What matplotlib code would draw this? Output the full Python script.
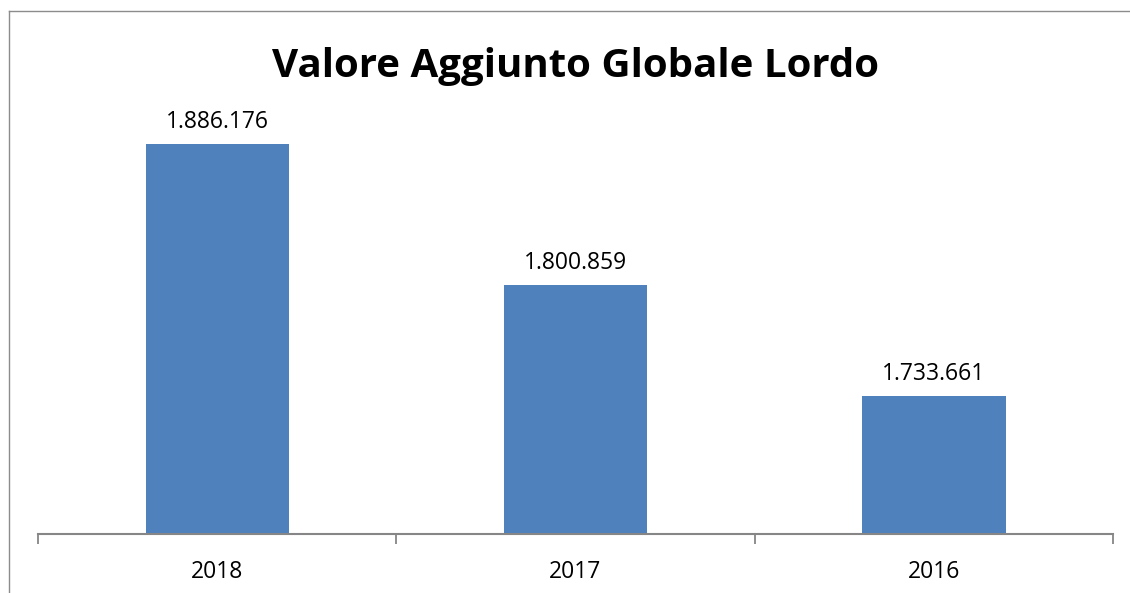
import matplotlib.pyplot as plt
from matplotlib.lines import Line2D

# Data
anni = ['2018', '2017', '2016']
valori = [1886176, 1800859, 1733661]

plt.rcParams['font.family'] = ['Open Sans', 'DejaVu Sans']

W, H = 1130, 593
fig = plt.figure(figsize=(W / 100, H / 100), dpi=100)

# plot area in pixels: x 38..1113, baseline at 534, top at 38
ax = fig.add_axes([38 / W, (H - 534) / H, (1113 - 38) / W, (534 - 38) / H])

x = range(len(anni))
bars = ax.bar(x, valori, width=0.4, color='#4F81BD', zorder=2)
ax.set_ylim(1650000, 1950000)
ax.set_xlim(-0.5, len(anni) - 0.5)

for b, v in zip(bars, valori):
    ax.annotate(f'{v:,}'.replace(',', '.'), (b.get_x() + b.get_width() / 2, v),
                xytext=(0, 7), textcoords='offset points',
                ha='center', va='bottom', fontsize=16.5)

# ticks at category boundaries, labels at centres
ax.set_xticks([i - 0.5 for i in range(len(anni) + 1)])
ax.set_xticklabels([])
ax.set_xticks(list(x), minor=True)
ax.set_xticklabels(anni, minor=True, fontsize=16.5)
ax.tick_params(axis='x', which='major', length=7, width=1.3, color='#868686', direction='out')
ax.tick_params(axis='x', which='minor', length=0, pad=19)
ax.set_yticks([])

for s in ['left', 'right', 'top']:
    ax.spines[s].set_visible(False)
ax.spines['bottom'].set_color('#868686')
ax.spines['bottom'].set_linewidth(1.5)

fig.text(576 / W, 1 - 66 / H, 'Valore Aggiunto Globale Lordo',
         ha='center', va='center', fontsize=29, fontweight='bold')

# chart frame (left and top edges)
fig.add_artist(Line2D([8.5 / W, 8.5 / W], [0, 1 - 11 / H], transform=fig.transFigure,
                      color='#8c8c8c', lw=1))
fig.add_artist(Line2D([8.5 / W, 1], [1 - 11 / H, 1 - 11 / H], transform=fig.transFigure,
                      color='#8c8c8c', lw=1))

fig.savefig('out.png', dpi=100)
